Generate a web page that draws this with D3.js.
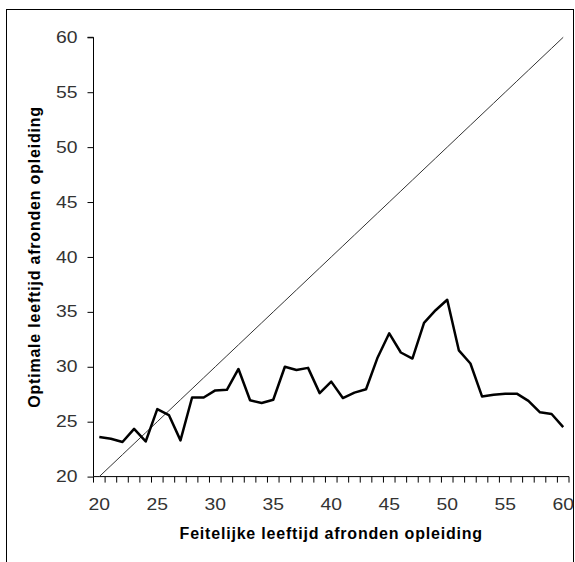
<!DOCTYPE html>
<html><head><meta charset="utf-8">
<script src="https://cdn.jsdelivr.net/npm/d3@7"></script>
<style>html,body{margin:0;padding:0;background:#fff;}svg{display:block;}</style>
</head><body>
<svg id="chart" width="575" height="562"></svg>
<script>
const categories = d3.range(20, 61);
const optimalAge = [23.6, 23.45, 23.15, 24.35, 23.2, 26.15, 25.6, 23.3, 27.2, 27.2,
  27.85, 27.9, 29.8, 26.95, 26.7, 27.0, 30.0, 29.7, 29.9, 27.6,
  28.65, 27.15, 27.65, 27.95, 30.85, 33.05, 31.3, 30.75, 34.0, 35.15,
  36.1, 31.5, 30.3, 27.3, 27.45, 27.55, 27.55, 26.9, 25.85, 25.7, 24.5];
const diagonal = categories.slice();
const xTickLabels = [20, 25, 30, 35, 40, 45, 50, 55, 60];
const yTickValues = [20, 25, 30, 35, 40, 45, 50, 55, 60];
const xTitle = "Feitelijke leeftijd afronden opleiding";
const yTitle = "Optimale leeftijd afronden opleiding";

(function () {
const svg = d3.select("#chart");
const pLeft = 93.5, pRight = 569, pTop = 37.3, pBottom = 476.6;
const FONT = "Liberation Sans, Arial, sans-serif";

svg.append("rect").attr("x", 6.5).attr("y", 9.5).attr("width", 567).attr("height", 600)
  .attr("fill", "#fff").attr("stroke", "#000").attr("stroke-width", 1);

const x = d3.scaleBand().domain(categories).range([pLeft, pRight]).padding(0);
const y = d3.scaleLinear().domain([20, 60]).range([pBottom, pTop]);
const cx = d => x(d) + x.bandwidth() / 2;

// y axis
const yAxis = d3.axisLeft(y).tickValues(yTickValues).tickSize(6).tickPadding(10);
const gy = svg.append("g").attr("transform", `translate(${pLeft},0)`).call(yAxis);
gy.select(".domain").attr("stroke", "#000").attr("d", `M-6,${pTop}H0V${pBottom}`);
gy.selectAll(".tick line").attr("stroke", "#000");
gy.selectAll("text").attr("font-family", FONT)
  .attr("font-size", 16).attr("fill", "#333")
  .attr("textLength", 21.5).attr("lengthAdjust", "spacingAndGlyphs");

// x axis: ticks at category boundaries
const gx = svg.append("g").attr("transform", `translate(0,${pBottom})`);
gx.append("line").attr("x1", pLeft).attr("x2", pRight).attr("y1", 0).attr("y2", 0).attr("stroke", "#000");
const bounds = categories.map(c => x(c)).concat([pRight]);
gx.selectAll("line.tk").data(bounds).join("line").attr("class", "tk")
  .attr("x1", d => d).attr("x2", d => d).attr("y1", 0).attr("y2", 6).attr("stroke", "#000");
gx.selectAll("text").data(xTickLabels).join("text")
  .attr("x", d => cx(d) - 10.75).attr("y", 33.5)
  .attr("font-family", FONT).attr("font-size", 16)
  .attr("fill", "#333").attr("textLength", 21.5).attr("lengthAdjust", "spacingAndGlyphs").text(d => d);

// titles
svg.append("text").attr("x", (pLeft + pRight) / 2).attr("y", 539).attr("text-anchor", "middle")
  .attr("font-family", FONT).attr("font-weight", "bold")
  .attr("font-size", 16).attr("letter-spacing", "0.8px").text(xTitle);
svg.append("text").attr("transform", `translate(40,${(pTop + pBottom) / 2}) rotate(-90)`)
  .attr("text-anchor", "middle").attr("font-family", FONT)
  .attr("font-weight", "bold").attr("font-size", 16).attr("letter-spacing", "0.8px").text(yTitle);

// lines
svg.append("path").datum(categories.map((c, i) => [c, diagonal[i]]))
  .attr("fill", "none").attr("stroke", "#333").attr("stroke-width", 1)
  .attr("d", d3.line().x(d => cx(d[0])).y(d => y(d[1])));
svg.append("path").datum(categories.map((c, i) => [c, optimalAge[i]]))
  .attr("fill", "none").attr("stroke", "#000").attr("stroke-width", 2.5)
  .attr("stroke-linejoin", "round")
  .attr("d", d3.line().x(d => cx(d[0])).y(d => y(d[1])));
})();
</script>
</body></html>
